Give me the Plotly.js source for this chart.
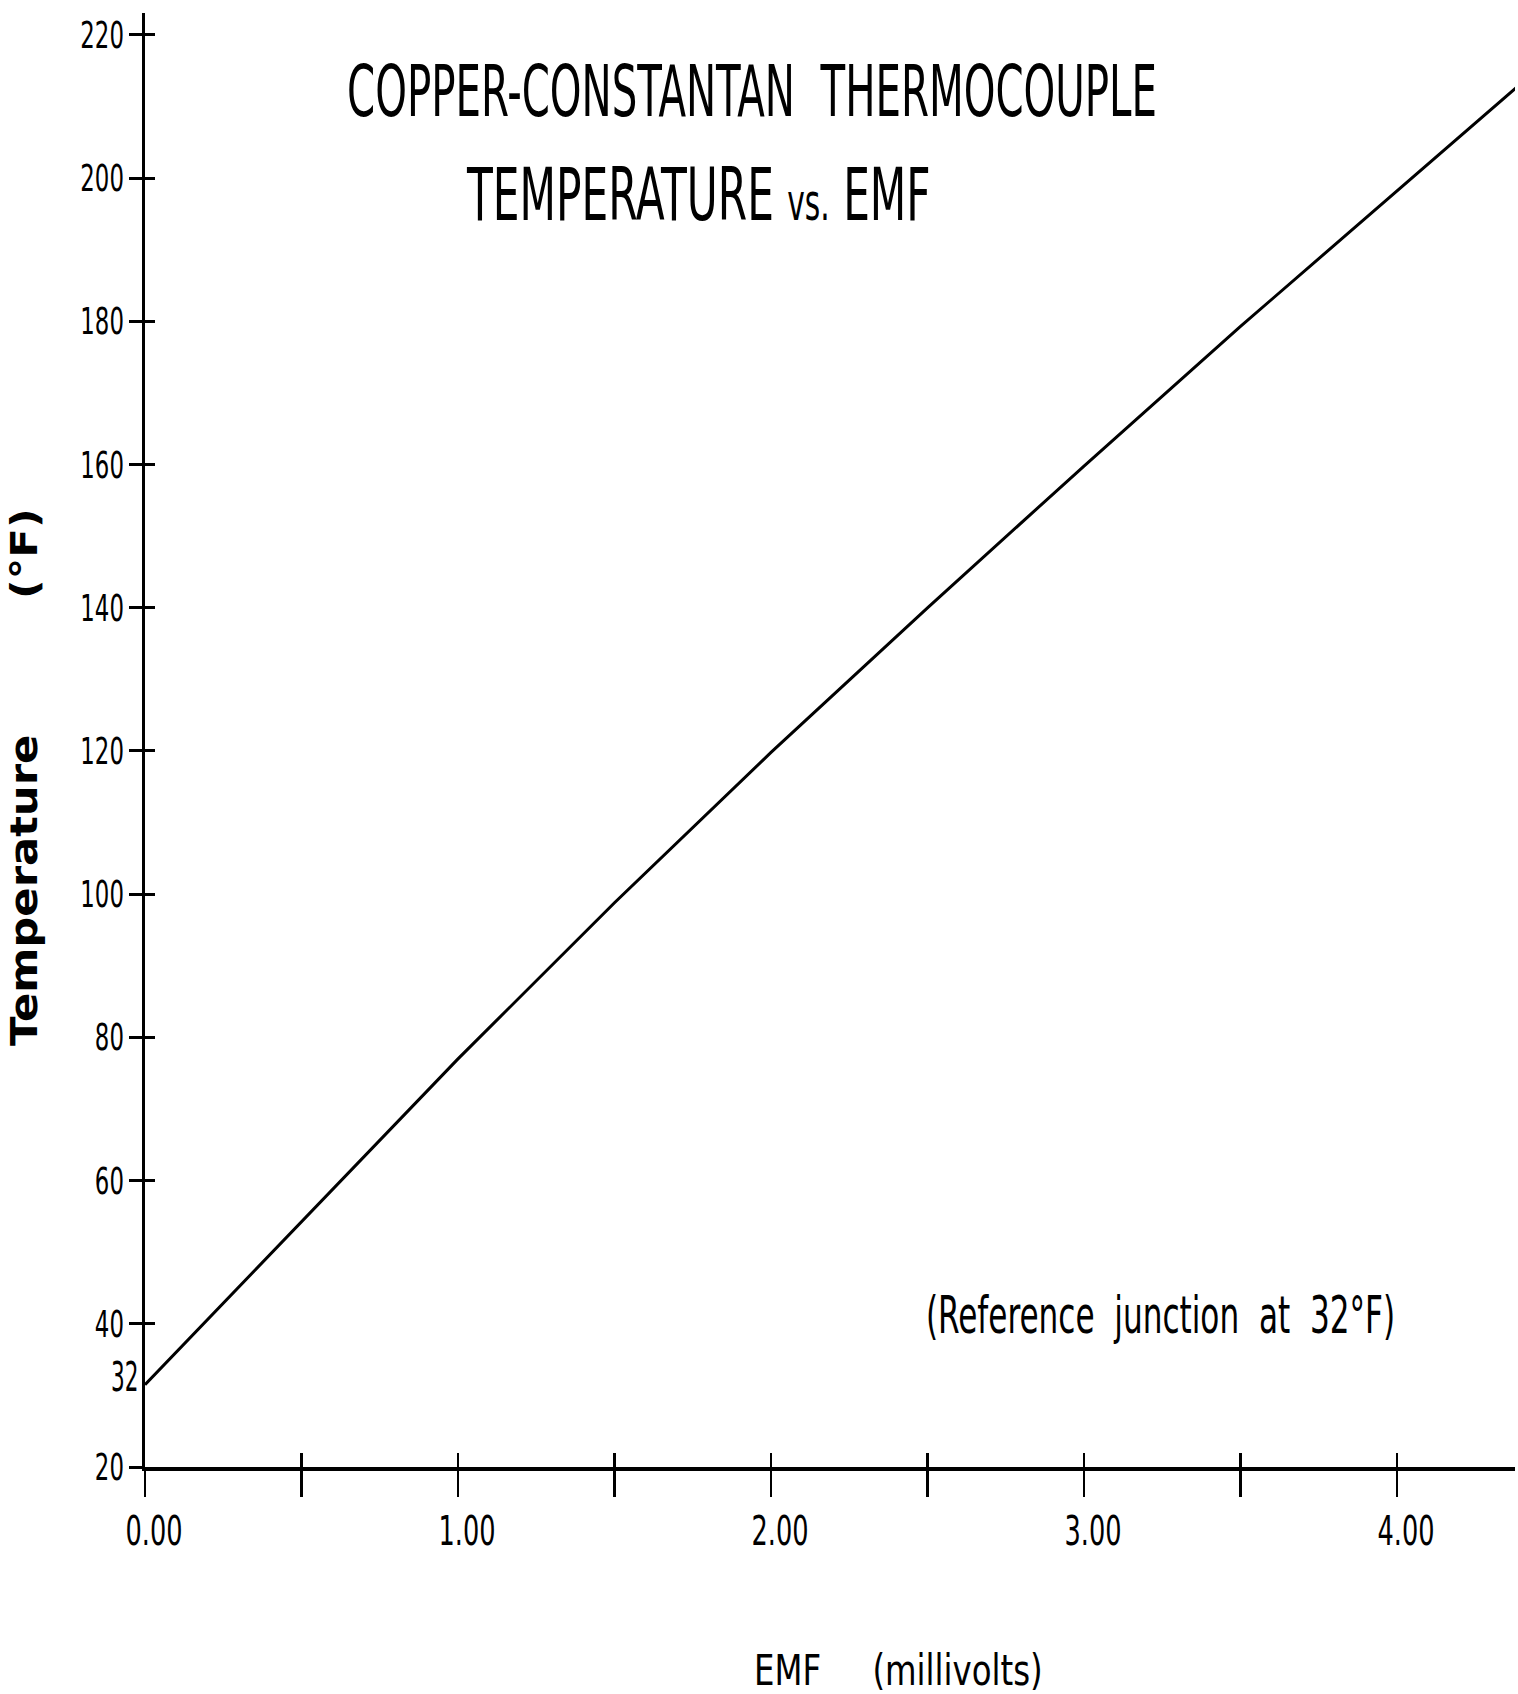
<!DOCTYPE html>
<html><head><meta charset="utf-8">
<script src="https://cdn.plot.ly/plotly-3.0.1.min.js"></script>
<style>html,body{margin:0;padding:0;background:#fff}</style>
</head><body>
<div id="chart" style="width:1518px;height:1694px"></div>
<script>
// EMF (millivolts) vs temperature (°F)
const emf = [0, 0.5, 1.0, 1.5, 2.0, 2.5, 3.0, 3.5, 4.0, 4.38];
const temperature = [31.5, 54.3, 77.0, 98.8, 119.8, 140.0, 159.8, 179.3, 198.2, 212.6];

const xTickVals = [0, 0.5, 1, 1.5, 2, 2.5, 3, 3.5, 4];
const xTickText = ["0.00", "", "1.00", "", "2.00", "", "3.00", "", "4.00"];
const yTickVals = [20, 40, 60, 80, 100, 120, 140, 160, 180, 200, 220];
const yTickText = ["20", "40", "60", "80", "100", "120", "140", "160", "180", "200", "220"];
const refTemp = 32;

const titleLine1 = "COPPER-CONSTANTAN  THERMOCOUPLE";
const titleLine2 = "TEMPERATURE <span style='font-size:33px'>vs.</span> EMF";
const noteText = "(Reference  junction  at  32°F)";
const xTitle = "EMF     (millivolts)";
const yTitle = "Temperature         (°F)";

const narrow = "Liberation Sans Narrow, DejaVu Sans Condensed, Arial Narrow, sans-serif";
const xRange = [0, 4.377];
const yRange = [20, 223.07];

const curve = {
  x: emf, y: temperature, type: "scatter", mode: "lines",
  line: {color: "#000", width: 3}, hoverinfo: "skip", showlegend: false
};
// empty trace that only registers the overlay axes used for the inner tick halves
const tickHolder = {
  x: [], y: [], type: "scatter", mode: "lines", xaxis: "x2", yaxis: "y2",
  hoverinfo: "skip", showlegend: false
};

const layout = {
  width: 1518, height: 1694,
  margin: {l: 145, r: 3, t: 13, b: 227},
  paper_bgcolor: "#fff", plot_bgcolor: "#fff",
  showlegend: false,
  title: {
    text: titleLine1,
    font: {family: narrow, size: 44.8, color: "#000"},
    x: 0.4954, xref: "container", xanchor: "center",
    y: 0.946, yref: "container", yanchor: "middle"
  },
  xaxis: {
    range: xRange, showgrid: false, zeroline: false,
    showline: true, linecolor: "#000", linewidth: 4,
    tickmode: "array", tickvals: xTickVals, ticktext: xTickText,
    ticks: "outside", ticklen: 26, tickwidth: 2.5, tickcolor: "#000",
    ticklabelstandoff: 10,
    tickfont: {family: narrow, size: 28.5, color: "#000"},
    fixedrange: true
  },
  xaxis2: {
    range: xRange, overlaying: "x", anchor: "y2", side: "bottom",
    showgrid: false, zeroline: false, showline: false,
    tickmode: "array", tickvals: xTickVals, showticklabels: false,
    ticks: "inside", ticklen: 14, tickwidth: 2.5, tickcolor: "#000",
    fixedrange: true
  },
  yaxis: {
    range: yRange, showgrid: false, zeroline: false,
    showline: true, linecolor: "#000", linewidth: 3,
    tickmode: "array", tickvals: yTickVals, ticktext: yTickText,
    ticks: "outside", ticklen: 13, tickwidth: 3, tickcolor: "#000",
    ticklabelstandoff: 0,
    tickfont: {family: narrow, size: 25.4, color: "#000"},
    fixedrange: true
  },
  yaxis2: {
    range: yRange, overlaying: "y", anchor: "x2", side: "left",
    showgrid: false, zeroline: false, showline: false,
    tickmode: "array", tickvals: yTickVals, showticklabels: false,
    ticks: "inside", ticklen: 10, tickwidth: 3, tickcolor: "#000",
    fixedrange: true
  },
  annotations: [
    {text: titleLine2, xref: "paper", yref: "paper", x: 0.404, y: 0.8755,
     xanchor: "center", yanchor: "middle", showarrow: false,
     font: {family: narrow, size: 47, color: "#000"}},
    {text: noteText, xref: "paper", yref: "paper", x: 0.741, y: 0.1045,
     xanchor: "center", yanchor: "middle", showarrow: false,
     font: {family: narrow, size: 34.6, color: "#000"}},
    {text: String(refTemp), xref: "paper", yref: "y", x: -0.004, y: refTemp + 0.6,
     xanchor: "right", yanchor: "middle", showarrow: false,
     font: {family: narrow, size: 24, color: "#000"}},
    {text: xTitle, xref: "paper", yref: "paper", x: 0.550, y: -0.140,
     xanchor: "center", yanchor: "middle", showarrow: false,
     font: {family: narrow, size: 36, color: "#000"}},
    {text: yTitle, xref: "paper", yref: "paper", x: -0.0876, y: 0.4746,
     xanchor: "center", yanchor: "middle", showarrow: false, textangle: -90,
     font: {family: "DejaVu Sans, sans-serif", size: 37, color: "#000", weight: "bold"}}
  ]
};

// stretch a text element around its own centre (the reference uses tall, narrow drafting letters)
function stretch(el, sx, sy, dx, dy) {
  if (!el) return;
  const bb = el.getBBox();
  const cx = bb.x + bb.width / 2, cy = bb.y + bb.height / 2;
  const prev = el.getAttribute("transform") || "";
  el.setAttribute("transform",
    prev + " translate(" + (cx + (dx || 0)) + "," + (cy + (dy || 0)) + ") scale(" + sx + "," + sy + ") translate(" + (-cx) + "," + (-cy) + ")");
}

Plotly.newPlot("chart", [curve, tickHolder], layout, {staticPlot: true, displayModeBar: false})
  .then(function (gd) {
    stretch(gd.querySelector(".gtitle"), 1, 1.59);
    gd.querySelectorAll(".xtick text").forEach(function (t) { stretch(t, 1, 1.44, 9, 0); });
    gd.querySelectorAll(".ytick text").forEach(function (t) { stretch(t, 1, 1.46); });
    const ann = gd.querySelectorAll(".annotation-text");
    const factors = [[1, 1.57], [1, 1.47], [1, 1.7], [1, 1.19], [1.17, 1]];
    ann.forEach(function (t, i) { if (factors[i]) stretch(t, factors[i][0], factors[i][1]); });
  });
</script>
</body></html>
